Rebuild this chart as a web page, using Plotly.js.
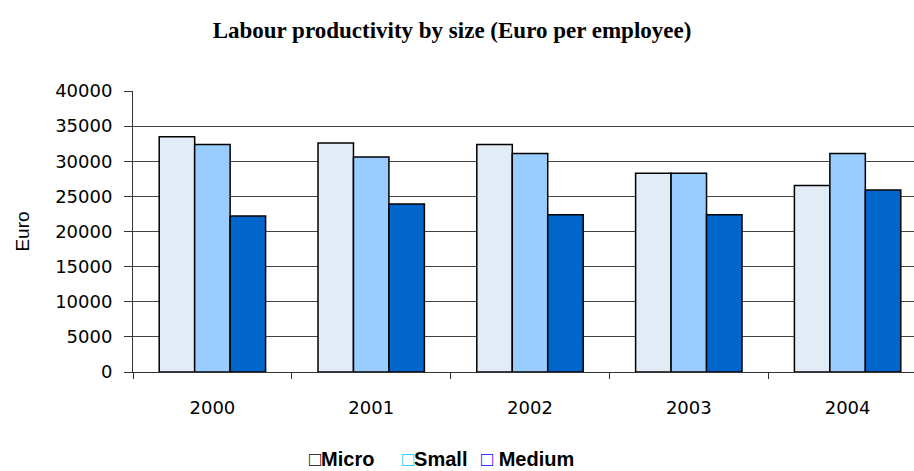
<!DOCTYPE html>
<html>
<head>
<meta charset="utf-8">
<script src="https://cdn.plot.ly/plotly-3.0.1.min.js"></script>
<style>
html, body { margin: 0; padding: 0; overflow: hidden; background: #fff; }
#chart { width: 930px; height: 471px; }
</style>
</head>
<body>
<div id="chart"></div>
<script>
const years = ['2000', '2001', '2002', '2003', '2004'];
const micro = [33500, 32600, 32400, 28300, 26550];
const small = [32400, 30600, 31100, 28300, 31100];
const medium = [22200, 23900, 22400, 22400, 25900];
const seriesNames = ['Micro', 'Small', 'Medium'];
const yTicks = [0, 5000, 10000, 15000, 20000, 25000, 30000, 35000, 40000];

const fills = ['#e2ecf7', '#99ccff', '#0066cc'];
const legendColors = ['#000000', '#00ccff', '#0000ff'];
const values = [micro, small, medium];

const traces = values.map((v, i) => ({
  type: 'bar', name: seriesNames[i], x: years, y: v,
  marker: { color: fills[i], line: { color: '#000', width: 1.5 } },
  showlegend: false, hoverinfo: 'x+y'
}));

// legend drawn as text entries (hollow key box + name), placed under the plot
const legX = [311, 404, 483];
const legGap = ['', '', ' '];
const annotations = seriesNames.map((n, i) => ({
  xref: 'paper', yref: 'paper',
  x: (legX[i] - 133 - 2) / 794, y: (372 - 459) / 281,
  xanchor: 'left', yanchor: 'middle', showarrow: false,
  borderpad: 0, borderwidth: 0,
  text: '<span style="color:' + legendColors[i] + '">□</span>' + legGap[i] + n,
  font: { family: 'Liberation Sans Narrow, Arial Narrow, Liberation Sans, sans-serif', size: 20, color: '#000', weight: 'bold' }
}));

const layout = {
  width: 930, height: 471,
  margin: { l: 133, r: 3, t: 91, b: 99 },
  paper_bgcolor: '#fff', plot_bgcolor: '#fff',
  title: {
    text: '<b>Labour productivity by size (Euro per employee)</b>',
    font: { family: 'Liberation Serif, Times New Roman, serif', size: 23, color: '#000' },
    x: 452 / 930, xref: 'container', xanchor: 'center',
    y: 1 - 30 / 471, yref: 'container', yanchor: 'middle'
  },
  barmode: 'group', bargap: 0.33, bargroupgap: 0,
  xaxis: {
    type: 'category', tickson: 'boundaries', ticks: 'outside', ticklen: 6, tickcolor: '#333',
    ticklabelstandoff: 19,
    showline: true, linecolor: '#333', linewidth: 1,
    tickfont: { family: 'DejaVu Sans, sans-serif', size: 18, color: '#000' },
    showgrid: false, zeroline: false, fixedrange: true
  },
  yaxis: {
    range: [0, 40000], tickvals: yTicks, ticktext: yTicks.map(String),
    ticks: 'outside', ticklen: 8, tickcolor: '#333', ticklabelstandoff: 8,
    showline: true, linecolor: '#333', linewidth: 1,
    showgrid: true, gridcolor: '#444', gridwidth: 1, zeroline: false,
    tickfont: { family: 'DejaVu Sans, sans-serif', size: 18, color: '#000' },
    title: { text: 'Euro', font: { family: 'Liberation Sans, Arial, sans-serif', size: 19, color: '#000' }, standoff: 20 },
    automargin: false, fixedrange: true
  },
  annotations: annotations,
  showlegend: false
};

Plotly.newPlot('chart', traces, layout, { displayModeBar: false, staticPlot: true });
</script>
</body>
</html>
